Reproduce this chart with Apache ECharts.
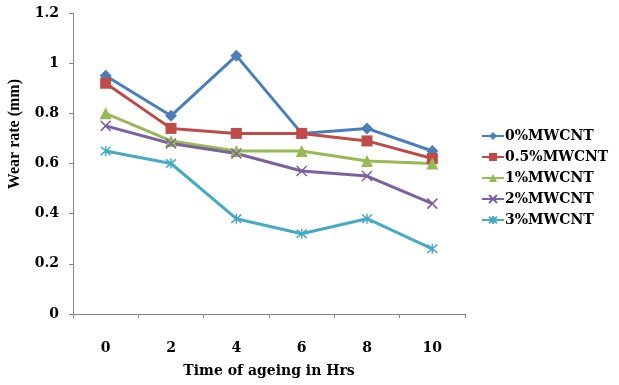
<!DOCTYPE html>
<html>
<head>
<meta charset="utf-8">
<script src="https://cdn.jsdelivr.net/npm/echarts@6/dist/echarts.min.js"></script>
<style>
  html, body { margin: 0; padding: 0; background: #fff; }
  #chart { width: 619px; height: 385px; }
</style>
</head>
<body>
<div id="chart"></div>
<script>
  const hours = ['0', '2', '4', '6', '8', '10']
  const yTicks = [0, 0.2, 0.4, 0.6, 0.8, 1, 1.2]
  const mw0 = [0.95, 0.79, 1.03, 0.72, 0.74, 0.65]
  const mw05 = [0.92, 0.74, 0.72, 0.72, 0.69, 0.62]
  const mw1 = [0.80, 0.69, 0.65, 0.65, 0.61, 0.60]
  const mw2 = [0.75, 0.68, 0.64, 0.57, 0.55, 0.44]
  const mw3 = [0.65, 0.60, 0.38, 0.32, 0.38, 0.26]

  const wideFont = '"DejaVu Serif", serif'
  const font = '"Liberation Serif", "Times New Roman", serif'
  const crossPath = 'path://M0,0L10,10M10,0L0,10'
  const starPath = 'path://M0,0L10,10M10,0L0,10M5,-1L5,11'

  const makeSeries = (name, data, color, symbol, size) => ({
    name: name,
    type: 'line',
    data: data,
    symbol: symbol,
    symbolSize: size,
    lineStyle: { color: color, width: 3 },
    itemStyle: { color: color, borderColor: color, borderWidth: symbol.startsWith('path') ? 1.5 : 0 }
  })

  const myEchart = echarts.init(document.getElementById('chart'))
  const option = {
    animation: false,
    textStyle: { fontFamily: wideFont },
    grid: { left: 73, right: 154, top: 13, bottom: 71 },
    graphic: [{
      type: 'text',
      left: 7,
      top: 79,
      rotation: Math.PI / 2,
      style: { text: 'Wear rate (mm)', font: 'bold 16px ' + font, fill: '#000' }
    }],
    legend: {
      orient: 'vertical',
      left: 476,
      top: 124,
      itemWidth: 22,
      itemHeight: 10,
      itemGap: 7,
      textStyle: { fontFamily: wideFont, fontWeight: 'bold', fontSize: 14, color: '#000', padding: [0, 0, 0, -4] },
      data: ['0%MWCNT', '0.5%MWCNT', '1%MWCNT', '2%MWCNT', '3%MWCNT']
    },
    xAxis: {
      type: 'category',
      data: hours,
      boundaryGap: true,
      name: 'Time of ageing in Hrs',
      nameLocation: 'middle',
      nameGap: 50,
      nameTextStyle: { fontFamily: wideFont, fontWeight: 'bold', fontSize: 14, color: '#000' },
      axisLine: { lineStyle: { color: '#868686' } },
      axisTick: { show: true, length: 4, lineStyle: { color: '#868686' } },
      axisLabel: { margin: 27, fontFamily: wideFont, fontWeight: 'bold', fontSize: 14, color: '#000' },
      splitLine: { show: false }
    },
    yAxis: {
      type: 'value',
      min: 0,
      max: 1.2,
      interval: 0.2,
      axisLine: { show: true, lineStyle: { color: '#868686' } },
      axisTick: { show: true, length: 4, lineStyle: { color: '#868686' } },
      axisLabel: {
        margin: 14,
        fontFamily: wideFont, fontWeight: 'bold', fontSize: 14, color: '#000',
        formatter: v => {
          const t = yTicks.find(x => Math.abs(x - v) < 1e-6)
          return t === undefined ? '' : String(t)
        }
      },
      splitLine: { show: false }
    },
    series: [
      makeSeries('0%MWCNT', mw0, '#4A7EBB', 'diamond', 12),
      makeSeries('0.5%MWCNT', mw05, '#BE4B48', 'rect', 11),
      makeSeries('1%MWCNT', mw1, '#98B954', 'triangle', 12),
      makeSeries('2%MWCNT', mw2, '#7D60A0', crossPath, 10),
      makeSeries('3%MWCNT', mw3, '#46AAC5', starPath, 10)
    ]
  }
  myEchart.setOption(option)
</script>
</body>
</html>
